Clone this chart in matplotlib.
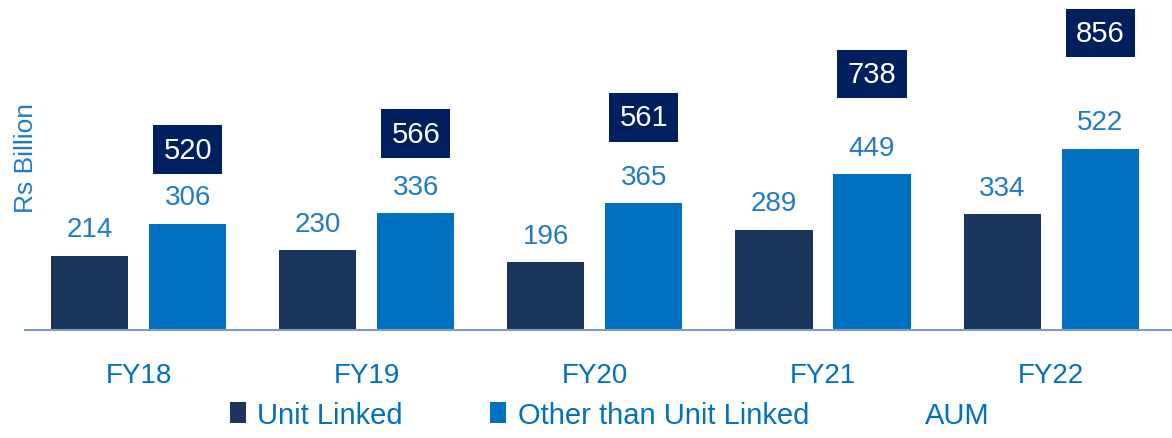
import numpy as np
import matplotlib.pyplot as plt
from matplotlib.patches import Patch

years = ["FY18", "FY19", "FY20", "FY21", "FY22"]
unit_linked = [214, 230, 196, 289, 334]
other_linked = [306, 336, 365, 449, 522]
aum = [520, 566, 561, 738, 856]

DARK = "#1b365d"
BLUE = "#0070c0"
NAVY = "#001f5f"
TXT = "#1f7bc8"

plt.rcParams['font.family'] = ["Liberation Sans", "DejaVu Sans"]

fig = plt.figure(figsize=(11.72, 4.39), dpi=100)
ax = fig.add_axes([0.021, 0.246, 0.979, 0.754])

x = np.arange(len(years))
w = 0.338
off = 0.215
b1 = ax.bar(x - off, unit_linked, w, color=DARK, zorder=2)
b2 = ax.bar(x + off, other_linked, w, color=BLUE, zorder=2)

for bars, vals in ((b1, unit_linked), (b2, other_linked)):
    for r, v in zip(bars, vals):
        ax.annotate(str(v), (r.get_x() + r.get_width() / 2, v),
                    xytext=(0, 14), textcoords="offset points",
                    ha="center", va="baseline", fontsize=20, color=TXT)

# AUM total boxes sit above the second bar; FY20 box nudged up to clear its label
nudge = [0, 0, 13, 0, 0]
for xi, v, n in zip(x, aum, nudge):
    ax.annotate(str(v), (xi + off, v), xytext=(0, n), textcoords="offset points",
                ha="center", va="center", fontsize=21, color="white",
                bbox=dict(boxstyle="square,pad=0.35", fc=NAVY, ec="none"))

ax.set_xlim(-0.5, 4.53)
ax.set_ylim(0, 954)
ax.set_xticks(x)
ax.set_xticklabels(years, fontsize=20, color=BLUE)
ax.tick_params(axis="x", length=0, pad=23)
ax.set_yticks([])
for s in ("top", "right", "left"):
    ax.spines[s].set_visible(False)
ax.spines["bottom"].set_color("#7a9cc6")
ax.spines["bottom"].set_linewidth(1.5)

fig.text(0.022, 0.64, "Rs Billion", rotation=90, ha="center", va="center",
         fontsize=19, color=TXT)

handles = [Patch(facecolor=DARK), Patch(facecolor=BLUE), Patch(facecolor="none", edgecolor="none")]
fig.legend(handles, ["Unit Linked", "Other than Unit Linked", "AUM"],
           loc="lower center", bbox_to_anchor=(0.52, -0.005), ncol=3, frameon=False,
           borderaxespad=0, fontsize=21, labelcolor=BLUE, handlelength=0.55,
           handleheight=0.75, handletextpad=0.4, columnspacing=3.0)

fig.savefig("out.png", dpi=100)
